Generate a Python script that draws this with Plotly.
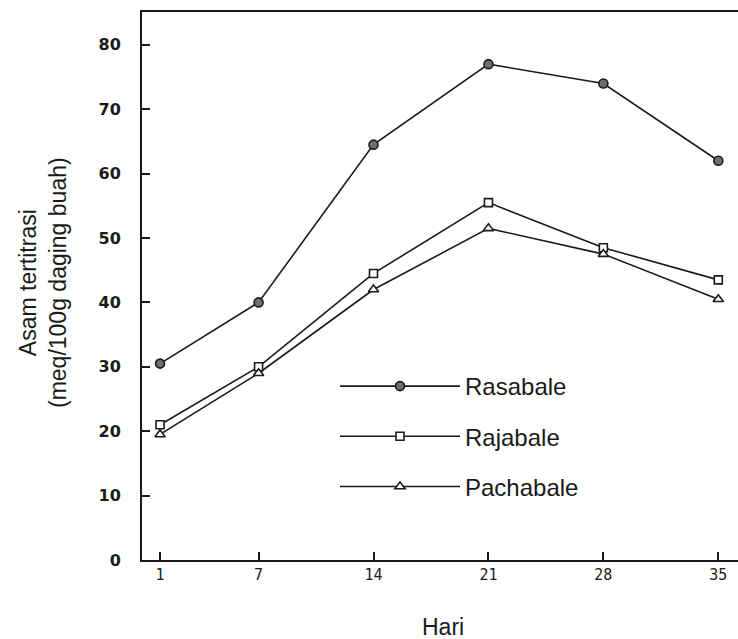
import plotly.graph_objects as go

days = [1, 7, 14, 21, 28, 35]
tick_labels = ["1", "7", "14", "21", "28", "35"]
rasabale = [30.5, 40.0, 64.5, 77.0, 74.0, 62.0]
rajabale = [21.0, 30.0, 44.5, 55.5, 48.5, 43.5]
pachabale = [19.5, 29.0, 42.0, 51.5, 47.5, 40.5]
y_ticks = [0, 10, 20, 30, 40, 50, 60, 70, 80]

W, H = 738, 639
L, R, T, B = 142, 0, 12, 79

ink = "#1a1a1a"
fig = go.Figure()
fig.add_trace(go.Scatter(
    x=days, y=rasabale, name="Rasabale", mode="lines+markers", legendgroup="a",
    line=dict(color=ink, width=1.6),
    marker=dict(symbol="circle", size=9, color="#6e6e6e", line=dict(color=ink, width=1.6))))
fig.add_trace(go.Scatter(
    x=days, y=rajabale, name="Rajabale", mode="lines+markers", legendgroup="b",
    line=dict(color=ink, width=1.6),
    marker=dict(symbol="square", size=8, color="white", line=dict(color=ink, width=1.6))))
fig.add_trace(go.Scatter(
    x=days, y=pachabale, name="Pachabale", mode="lines+markers", legendgroup="c",
    line=dict(color=ink, width=1.6),
    marker=dict(symbol="triangle-up", size=9, color="white", line=dict(color=ink, width=1.6))))

pw = W - L - R
ph = H - T - B

fig.update_layout(
    width=W, height=H,
    margin=dict(l=L, r=R, t=T, b=B, pad=0),
    paper_bgcolor="white", plot_bgcolor="white",
    showlegend=True,
    legend=dict(
        x=(335 - L) / pw, y=(H - B - 364) / ph, xanchor="left", yanchor="top",
        font=dict(family="Liberation Sans, Arial, sans-serif", size=24, color=ink),
        bgcolor="rgba(0,0,0,0)", itemwidth=120, tracegroupgap=16,
    ),
    xaxis=dict(
        range=[-0.1, 36.2], tickmode="array", tickvals=days, ticktext=tick_labels,
        ticks="inside", ticklen=8, tickwidth=1.5, tickcolor=ink,
        showline=True, linecolor=ink, linewidth=2, mirror=True,
        showgrid=False, zeroline=False,
        tickfont=dict(family="DejaVu Sans Mono, monospace", size=15, color=ink),
    ),
    yaxis=dict(
        range=[0, 85.1], tickmode="array", tickvals=y_ticks,
        ticks="inside", ticklen=8, tickwidth=1.5, tickcolor=ink,
        showline=True, linecolor=ink, linewidth=2,
        showgrid=False, zeroline=False, ticklabelstandoff=16,
        tickfont=dict(family="DejaVu Sans, sans-serif", size=16, color=ink, weight="bold"),
    ),
    annotations=[
        dict(text="Asam tertitrasi<br>(meq/100g daging buah)", textangle=-90,
             xref="paper", yref="paper", x=(43 - L) / pw, y=(H - B - 283) / ph,
             xanchor="center", yanchor="middle", showarrow=False,
             font=dict(family="Liberation Sans, Arial, sans-serif", size=23, color=ink)),
        dict(text="Hari", xref="paper", yref="paper", x=(443 - L) / pw, y=-(627 - (H - B)) / ph,
             xanchor="center", yanchor="middle", showarrow=False,
             font=dict(family="Liberation Sans, Arial, sans-serif", size=23, color=ink)),
    ],
)

fig.write_html("out.html")
